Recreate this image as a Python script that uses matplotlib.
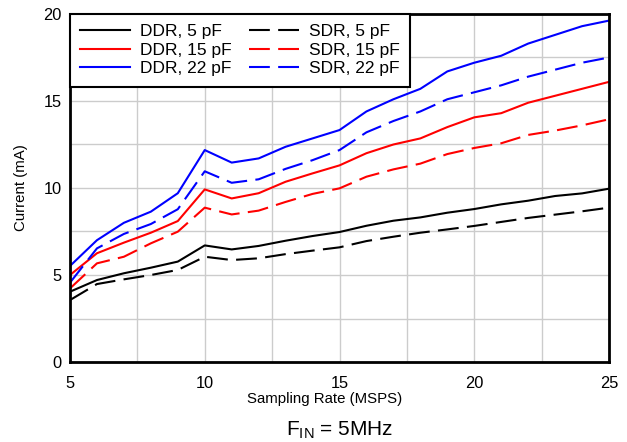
import matplotlib
matplotlib.use("Agg")
import matplotlib.pyplot as plt

plt.rcParams['font.family'] = ['Liberation Sans', 'DejaVu Sans']

# sampling rate (MSPS)
rate = [5, 6, 7, 8, 9, 10, 11, 12, 13, 14, 15, 16, 17, 18, 19, 20, 21, 22, 23, 24, 25]

# supply current (mA)
ddr_5 = [4.04, 4.71, 5.1, 5.42, 5.77, 6.7, 6.47, 6.67, 6.97, 7.24, 7.47,
         7.83, 8.12, 8.31, 8.58, 8.79, 9.06, 9.27, 9.54, 9.69, 9.96]
ddr_15 = [5.0, 6.25, 6.86, 7.43, 8.1, 9.92, 9.4, 9.7, 10.36, 10.84, 11.3,
          12.0, 12.5, 12.85, 13.5, 14.06, 14.3, 14.9, 15.3, 15.7, 16.1]
ddr_22 = [5.52, 7.0, 8.0, 8.64, 9.7, 12.18, 11.46, 11.7, 12.37, 12.85, 13.33,
          14.4, 15.1, 15.7, 16.7, 17.2, 17.6, 18.3, 18.8, 19.3, 19.62]
sdr_5 = [3.56, 4.48, 4.75, 5.0, 5.29, 6.05, 5.86, 5.96, 6.2, 6.4, 6.59,
         6.95, 7.2, 7.43, 7.62, 7.82, 8.05, 8.28, 8.47, 8.66, 8.87]
sdr_15 = [4.23, 5.67, 6.05, 6.82, 7.49, 8.87, 8.48, 8.7, 9.2, 9.66, 9.98,
          10.65, 11.07, 11.4, 11.95, 12.3, 12.57, 13.05, 13.3, 13.6, 13.95]
sdr_22 = [4.56, 6.53, 7.36, 7.93, 8.78, 10.96, 10.3, 10.5, 11.1, 11.6, 12.18,
          13.2, 13.85, 14.4, 15.1, 15.5, 15.9, 16.4, 16.8, 17.2, 17.5]

fig = plt.figure(figsize=(6.27, 4.42), dpi=100)
ax = fig.add_axes([70/627, 1 - 362/442, 539/627, 348/442])

dash = (10, 4)
ax.plot(rate, ddr_5, color='black', lw=1.5, label='DDR, 5 pF')
ax.plot(rate, ddr_15, color='#ff0000', lw=1.5, label='DDR, 15 pF')
ax.plot(rate, ddr_22, color='#0000ff', lw=1.5, label='DDR, 22 pF')
ax.plot(rate, sdr_5, color='black', lw=1.5, dashes=dash, label='SDR, 5 pF')
ax.plot(rate, sdr_15, color='#ff0000', lw=1.5, dashes=dash, label='SDR, 15 pF')
ax.plot(rate, sdr_22, color='#0000ff', lw=1.5, dashes=dash, label='SDR, 22 pF')

ax.set_xlim(5, 25)
ax.set_ylim(0, 20)
ax.set_xticks([5, 10, 15, 20, 25])
ax.set_yticks([0, 5, 10, 15, 20])
ax.set_xticks([7.5, 12.5, 17.5, 22.5], minor=True)
ax.set_yticks([2.5, 7.5, 12.5, 17.5], minor=True)
ax.grid(True, which='both', color='#cccccc', lw=1)
ax.set_axisbelow(True)
ax.tick_params(which='both', length=0, labelsize=11.8)
ax.tick_params(axis='x', pad=10)
ax.tick_params(axis='y', pad=6)
for s in ax.spines.values():
    s.set_linewidth(2)

ax.set_xlabel('Sampling Rate (MSPS)', fontsize=10.8)
ax.xaxis.set_label_coords(0.472, -0.085)
ax.set_ylabel('Current (mA)', fontsize=10.8, labelpad=11)

leg = ax.legend(loc='upper left', ncol=2, fontsize=12.5, frameon=True,
                fancybox=False, framealpha=1, edgecolor='black',
                borderaxespad=0, handlelength=2.9, handletextpad=0.55,
                columnspacing=1.0, labelspacing=0.2, borderpad=0.58)
leg.get_frame().set_linewidth(1.5)

fig.text(340/627, 1 - 436/442, r'$\mathregular{F_{IN}}$ = 5MHz', fontsize=15,
         ha='center', va='baseline')

fig.savefig('out.png', dpi=100)
